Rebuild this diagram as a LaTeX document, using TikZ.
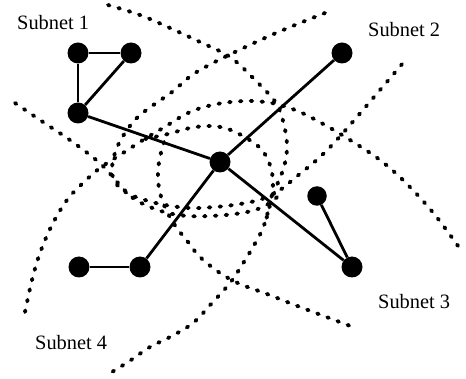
\documentclass[tikz,border=0pt]{standalone}
\usepackage{fontspec}
\setmainfont{Liberation Serif}
\begin{document}
\begin{tikzpicture}[x=1pt,y=-1pt,
  host/.style={circle,fill=black,inner sep=0pt,minimum size=21pt},
  link/.style={line width=2.8pt},
  border/.style={line width=3.9pt,line cap=round,dash pattern=on 1.6pt off 9.2pt},
  lbl/.style={anchor=base west,inner sep=0pt,font=\fontsize{20.4}{24}\selectfont}]
\useasboundingbox (0,0) rectangle (466,379);

% subnet boundaries
\draw[border] plot[smooth,tension=0.6] coordinates {
  (325,13) (267,37) (200,70) (172,92) (140,115) (125,133) (116,150) (112,168)
  (115,182) (127,193) (145,200) (165,205) (190,208) (215,207) (240,204)
  (262,199) (280,190) (296,177) (320,157) (343,133) (380,90) (403,63)};
\draw[border] plot[smooth,tension=0.6] coordinates {
  (25,312) (32,280) (40,253) (52,225) (67,200) (83,183) (100,168) (123,153)
  (143,140) (163,128) (190,112) (217,104) (245,101) (265,102) (280,105)
  (300,112) (325,125) (350,140) (380,160) (406,183) (435,215) (463,253)};
\draw[border] plot[smooth,tension=0.6] coordinates {
  (108,5) (140,15) (170,28) (200,42) (230,57) (255,80) (276,103) (284,125)
  (287,147) (284,167) (277,185) (270,205) (263,228) (253,247) (242,265)
  (230,283) (212,303) (193,323) (170,337) (150,347) (128,362) (107,375)};
\draw[border] plot[smooth,tension=0.6] coordinates {
  (15,103) (40,120) (67,138) (90,155) (105,168) (118,183) (133,198) (150,207)
  (168,213) (188,216) (210,216) (235,214) (255,210) (270,203) (280,194)};
\draw[border] plot[smooth,tension=0.6] coordinates {
  (145,139) (168,134) (190,128) (210,126) (228,129) (248,139) (262,150)
  (270,165) (273,182) (271,200) (266,220)};
\draw[border] plot[smooth,tension=0.6] coordinates {
  (164,142) (160,157) (158,172) (159,188) (164,205) (174,224) (188,242)
  (200,257) (220,273) (240,284) (267,294) (300,307) (353,327)};

% hosts
\node[host] (a) at (78,53) {};
\node[host] (b) at (131,53) {};
\node[host] (c) at (78,113) {};
\node[host] (hub) at (220,162) {};
\node[host] (d) at (342,53) {};
\node[host,minimum size=19.5pt] (e) at (317,196) {};
\node[host] (f) at (352,267) {};
\node[host] (g) at (140,267) {};
\node[host] (h) at (79,267) {};

% links
\draw[link] (a) -- (b);
\draw[link] (a) -- (c);
\draw[link] (b) -- (c);
\draw[link] (c) -- (hub);
\draw[link] (hub) -- (d);
\draw[link] (hub) -- (f);
\draw[link] (e) -- (f);
\draw[link] (hub) -- (g);
\draw[link] (g) -- (h);

% labels
\node[lbl] (s1) at (17,30) {Subnet 1};
\node[lbl] (s2) at (368,37) {Subnet 2};
\node[lbl] (s3) at (378,309) {Subnet 3};
\node[lbl] (s4) at (35,350) {Subnet 4};
\end{tikzpicture}
\end{document}
